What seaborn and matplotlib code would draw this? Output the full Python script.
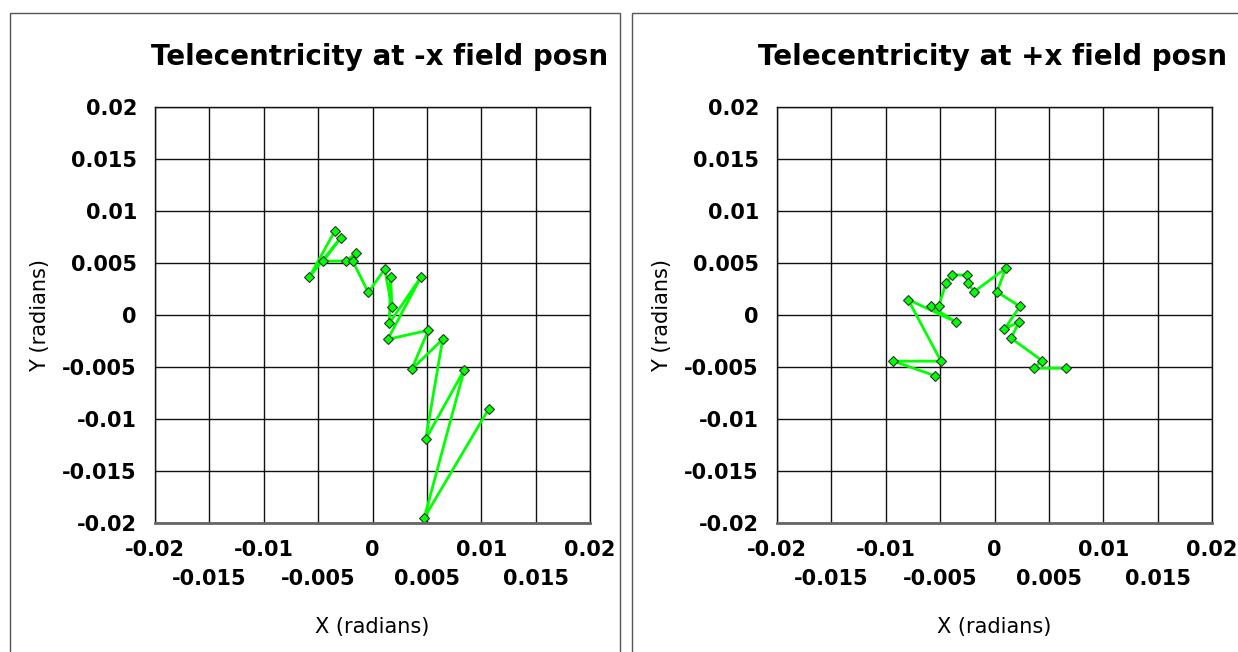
import matplotlib
matplotlib.use("Agg")
import matplotlib.pyplot as plt
import seaborn as sns
import pandas as pd
from matplotlib.patches import Rectangle

sns.set_style("white")
plt.rcParams['font.family'] = ['DejaVu Sans']
plt.rcParams['text.color'] = 'black'
plt.rcParams['axes.labelcolor'] = 'black'
plt.rcParams['xtick.color'] = 'black'
plt.rcParams['ytick.color'] = 'black'

# ---- data ----
left_x = [-0.00345, -0.00581, -0.00292, -0.00452, -0.00244, -0.00154, -0.00182,
          -0.00039, 0.00112, 0.00179, 0.00167, 0.00154, 0.00446, 0.00140,
          0.00513, 0.00360, 0.00645, 0.00489, 0.00844, 0.00476, 0.01068]
left_y = [0.00810, 0.00365, 0.00743, 0.00519, 0.00519, 0.00593, 0.00519,
          0.00218, 0.00440, 0.00074, 0.00362, -0.00080, 0.00365, -0.00234,
          -0.00147, -0.00522, -0.00234, -0.01195, -0.00526, -0.01950, -0.00904]

right_x = [-0.00544, -0.00930, -0.00492, -0.00795, -0.00357, -0.00584, -0.00513,
           -0.00446, -0.00388, -0.00256, -0.00244, -0.00188, 0.00103, 0.00023,
           0.00234, 0.00090, 0.00228, 0.00152, 0.00439, 0.00360, 0.00654]
right_y = [-0.00585, -0.00444, -0.00444, 0.00149, -0.00065, 0.00082, 0.00082,
           0.00306, 0.00387, 0.00383, 0.00306, 0.00223, 0.00450, 0.00223,
           0.00082, -0.00137, -0.00063, -0.00223, -0.00440, -0.00512, -0.00512]

x_row1_ticks = [-0.02, -0.01, 0, 0.01, 0.02]
x_row1_labels = ['-0.02', '-0.01', '0', '0.01', '0.02']
x_row2_ticks = [-0.015, -0.005, 0.005, 0.015]
x_row2_labels = ['-0.015', '-0.005', '0.005', '0.015']
y_ticks = [-0.02, -0.015, -0.01, -0.005, 0, 0.005, 0.01, 0.015, 0.02]
y_tick_labels = ['-0.02', '-0.015', '-0.01', '-0.005', '0',
                 '0.005', '0.01', '0.015', '0.02']
titles = ['Telecentricity at -x field posn', 'Telecentricity at +x field posn']

W, H = 1238, 652
fig = plt.figure(figsize=(W / 100, H / 100), dpi=100)

# panel frames
fig.patches.append(Rectangle((10 / W, -0.05), 610 / W, 1.05 - 13 / H,
                             transform=fig.transFigure, fill=False,
                             edgecolor='#555555', linewidth=1))
fig.patches.append(Rectangle((632 / W, -0.05), 620 / W, 1.05 - 13 / H,
                             transform=fig.transFigure, fill=False,
                             edgecolor='#555555', linewidth=1))

panels = [(155, left_x, left_y, titles[0], 380),
          (777, right_x, right_y, titles[1], 993)]

for left_px, xs, ys, title, tcx in panels:
    ax = fig.add_axes([left_px / W, 1 - 523 / H, 435 / W, 416 / H])
    df = pd.DataFrame({'x': xs, 'y': ys})
    sns.lineplot(data=df, x='x', y='y', sort=False, estimator=None, ax=ax,
                 color='#00ff00', linewidth=2, marker='D', markersize=5.5,
                 markerfacecolor='#00ff00', markeredgecolor='#333333',
                 markeredgewidth=0.8)
    ax.set_xlim(-0.02, 0.02)
    ax.set_ylim(-0.02, 0.02)
    ax.set_xticks(x_row1_ticks)
    ax.set_xticklabels(x_row1_labels, fontsize=15, fontweight='bold')
    ax.set_xticks(x_row2_ticks, minor=True)
    ax.set_xticklabels(x_row2_labels, minor=True, fontsize=15,
                       fontweight='bold')
    ax.set_yticks(y_ticks)
    ax.set_yticklabels(y_tick_labels, fontsize=15, fontweight='bold')
    ax.tick_params(axis='both', which='both', length=0)
    ax.tick_params(axis='x', which='major', pad=12)
    ax.tick_params(axis='x', which='minor', pad=33)
    ax.tick_params(axis='y', pad=13)
    ax.grid(True, which='both', color='#111111', linewidth=1)
    ax.set_axisbelow(True)
    for s in ['left', 'top', 'right']:
        ax.spines[s].set_color('#111111')
        ax.spines[s].set_linewidth(1)
    ax.spines['bottom'].set_color('#666666')
    ax.spines['bottom'].set_linewidth(2)
    ax.set_xlabel('X (radians)', fontsize=15)
    ax.set_ylabel('Y (radians)', fontsize=15)
    ax.xaxis.set_label_coords(0.5, (523 - 617) / 416)
    ax.yaxis.set_label_coords((50 - 155) / 435, 0.5)
    fig.text(tcx / W, 1 - 57 / H, title, ha='center', va='center',
             fontsize=20, fontweight='bold')

fig.savefig('out.png', dpi=100)
